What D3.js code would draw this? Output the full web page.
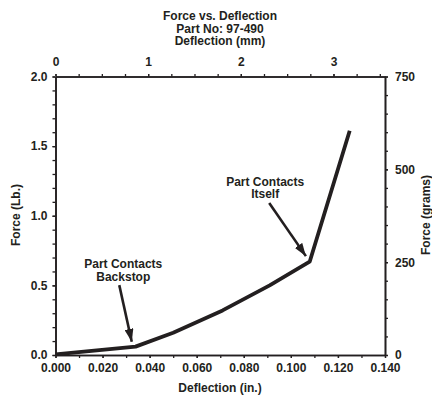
<!DOCTYPE html>
<html>
<head>
<meta charset="utf-8">
<script src="https://cdn.jsdelivr.net/npm/d3@7"></script>
<style>
  html, body { margin: 0; padding: 0; background: #fff; }
  svg { display: block; }
  text { font-family: "Liberation Sans", Arial, Helvetica, sans-serif; font-weight: bold; fill: #231f20; }
</style>
</head>
<body>
<svg id="chart" width="432" height="398"></svg>
<script>
// ---- Data ----
const deflectionIn = [0.000, 0.034, 0.050, 0.071, 0.091, 0.108, 0.125];
const forceLb      = [0.005, 0.060, 0.160, 0.320, 0.500, 0.670, 1.610];

const bottomTickLabels = ["0.000", "0.020", "0.040", "0.060", "0.080", "0.100", "0.120", "0.140"];
const leftTickLabels   = ["0.0", "0.5", "1.0", "1.5", "2.0"];
const topTickLabels    = ["0", "1", "2", "3"];
const rightTickLabels  = ["0", "250", "500", "750"];

const titleLines = ["Force vs. Deflection", "Part No: 97-490", "Deflection (mm)"];
const xAxisTitle = "Deflection (in.)";
const yAxisTitle = "Force (Lb.)";
const y2AxisTitle = "Force (grams)";

// annotations: label anchor, arrow start and tip, in data units (in., lb)
const annotationLines = [["Part Contacts", "Backstop"], ["Part Contacts", "Itself"]];
const annotationLabelX = [0.0288, 0.0891];
const annotationLabelY = [0.624, 1.214];
const arrowFromX = [0.0271, 0.0908];
const arrowFromY = [0.502, 1.092];
const arrowToX   = [0.0324, 0.1064];
const arrowToY   = [0.095, 0.710];

// ---- Layout ----
const svg = d3.select("#chart");
const mLeft = 55.5, mRight = 385, mTop = 76.5, mBottom = 355;
const x = d3.scaleLinear().domain([0, 0.14]).range([mLeft, mRight]);
const y = d3.scaleLinear().domain([0, 2.0]).range([mBottom, mTop]);
const xmm = d3.scaleLinear().domain([0, 0.14 * 25.4]).range([mLeft, mRight]);
const yg = d3.scaleLinear().domain([0, 750]).range([mBottom, mTop]);

const fs = 12;

function styleAxis(g) {
  g.selectAll("path.domain").attr("stroke", "#231f20").attr("stroke-width", 1.6);
  g.selectAll(".tick line").attr("stroke", "#231f20").attr("stroke-width", 1.3);
  g.selectAll(".tick text").attr("font-size", fs).attr("font-family", null).attr("fill", "#231f20");
}

// bottom axis
const xMinor = d3.range(0, 15).map(i => i * 0.01);
svg.append("g").attr("transform", `translate(0,${mBottom})`)
  .call(d3.axisBottom(x).tickValues(xMinor).tickSize(3).tickSizeOuter(0).tickFormat(""))
  .call(styleAxis);
const xMajor = bottomTickLabels.map(Number);
svg.append("g").attr("transform", `translate(0,${mBottom})`)
  .call(d3.axisBottom(x).tickValues(xMajor).tickSize(3).tickSizeOuter(0).tickPadding(5)
    .tickFormat((d, i) => bottomTickLabels[i]))
  .call(styleAxis);

// left axis
const yMinor = d3.range(0, 21).map(i => i * 0.1);
svg.append("g").attr("transform", `translate(${mLeft},0)`)
  .call(d3.axisLeft(y).tickValues(yMinor).tickSize(3).tickSizeOuter(0).tickFormat(""))
  .call(styleAxis);
const yMajor = leftTickLabels.map(Number);
svg.append("g").attr("transform", `translate(${mLeft},0)`)
  .call(d3.axisLeft(y).tickValues(yMajor).tickSize(3).tickSizeOuter(0).tickPadding(5)
    .tickFormat((d, i) => leftTickLabels[i]))
  .call(styleAxis);

// top axis (mm)
const mmMinor = d3.range(0, 15).map(i => i * 0.25);
svg.append("g").attr("transform", `translate(0,${mTop})`)
  .call(d3.axisTop(xmm).tickValues(mmMinor).tickSize(2.5).tickSizeOuter(0).tickFormat(""))
  .call(styleAxis);
const mmMajor = topTickLabels.map(Number);
svg.append("g").attr("transform", `translate(0,${mTop})`)
  .call(d3.axisTop(xmm).tickValues(mmMajor).tickSize(2.5).tickSizeOuter(0).tickPadding(8)
    .tickFormat((d, i) => topTickLabels[i]))
  .call(styleAxis);

// right axis (grams)
const gMinor = d3.range(0, 16).map(i => i * 50);
svg.append("g").attr("transform", `translate(${mRight},0)`)
  .call(d3.axisRight(yg).tickValues(gMinor).tickSize(3).tickSizeOuter(0).tickFormat(""))
  .call(styleAxis);
const gMajor = rightTickLabels.map(Number);
svg.append("g").attr("transform", `translate(${mRight},0)`)
  .call(d3.axisRight(yg).tickValues(gMajor).tickSize(3).tickSizeOuter(0).tickPadding(7)
    .tickFormat((d, i) => rightTickLabels[i]))
  .call(styleAxis);

// titles
svg.append("g").selectAll("text").data(titleLines).join("text")
  .attr("x", 220).attr("y", (d, i) => 20 + i * 12.5)
  .attr("text-anchor", "middle").attr("font-size", fs).text(d => d);

svg.append("text").attr("x", 220).attr("y", 392)
  .attr("text-anchor", "middle").attr("font-size", fs).text(xAxisTitle);

svg.append("text").attr("transform", "translate(20,215) rotate(-90)")
  .attr("text-anchor", "middle").attr("font-size", fs).text(yAxisTitle);

svg.append("text").attr("transform", "translate(429.5,215) rotate(-90)")
  .attr("text-anchor", "middle").attr("font-size", fs).text(y2AxisTitle);

// data line
const pts = deflectionIn.map((d, i) => [d, forceLb[i]]);
svg.append("path").datum(pts)
  .attr("fill", "none").attr("stroke", "#231f20").attr("stroke-width", 3.8)
  .attr("stroke-linejoin", "round")
  .attr("d", d3.line().x(d => x(d[0])).y(d => y(d[1])));

// annotations
const defs = svg.append("defs");
defs.append("marker").attr("id", "arrowhead")
  .attr("markerUnits", "userSpaceOnUse")
  .attr("viewBox", "0 0 13 9").attr("refX", 13).attr("refY", 4.5)
  .attr("markerWidth", 13).attr("markerHeight", 9).attr("orient", "auto")
  .append("path").attr("d", "M0,0 L13,4.5 L0,9 Z").attr("fill", "#231f20");

annotationLines.forEach((lines, k) => {
  svg.append("g").selectAll("text").data(lines).join("text")
    .attr("x", x(annotationLabelX[k]))
    .attr("y", (d, i) => y(annotationLabelY[k]) + i * 12.5)
    .attr("text-anchor", "middle").attr("font-size", fs).text(d => d);
  svg.append("line")
    .attr("x1", x(arrowFromX[k])).attr("y1", y(arrowFromY[k]))
    .attr("x2", x(arrowToX[k])).attr("y2", y(arrowToY[k]))
    .attr("stroke", "#231f20").attr("stroke-width", 2.6)
    .attr("marker-end", "url(#arrowhead)");
});
</script>
</body>
</html>
